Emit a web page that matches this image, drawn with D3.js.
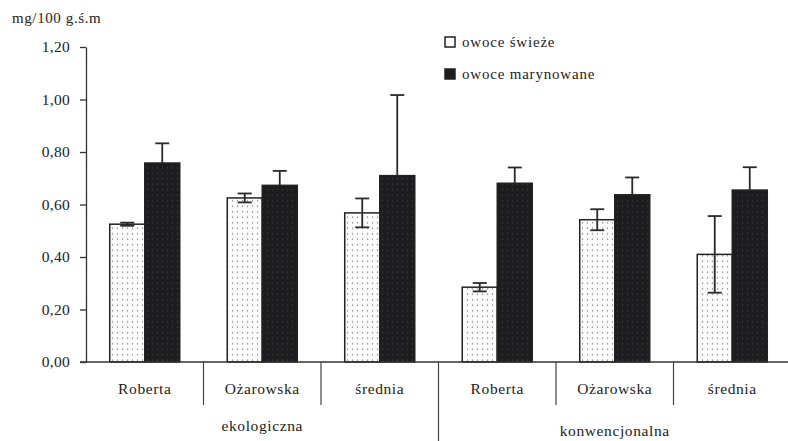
<!DOCTYPE html>
<html><head><meta charset="utf-8">
<script src="https://cdn.jsdelivr.net/npm/d3@7/dist/d3.min.js"></script>
<style>
html,body{margin:0;padding:0;background:#fff;}
svg{display:block;}
svg text{font-family:"Liberation Serif","Times New Roman",serif;}
</style></head>
<body><svg id="c" width="788" height="441"></svg>
<script>
const groups = ["ekologiczna", "konwencjonalna"];
const categories = ["Roberta", "Ożarowska", "średnia", "Roberta", "Ożarowska", "średnia"];
const categoryGroup = [0, 0, 0, 1, 1, 1];
const seriesNames = ["owoce świeże", "owoce marynowane"];
const freshValues = [0.525, 0.625, 0.568, 0.285, 0.542, 0.410];
const freshErrors = [0.006, 0.017, 0.055, 0.016, 0.040, 0.146];
const marinatedValues = [0.758, 0.673, 0.710, 0.681, 0.637, 0.655];
const marinatedErrors = [0.075, 0.055, 0.307, 0.060, 0.066, 0.087];
const yTicks = [0, 0.2, 0.4, 0.6, 0.8, 1.0, 1.2];
const yTitle = "mg/100 g.ś.m";

const svg = d3.select("#c");
const x0 = 86, x1 = 791, yTop = 47, yBase = 362;
const y = d3.scaleLinear().domain([0, 1.2]).range([yBase, yTop]);
const idx = categories.map((d, i) => i);
const slot = d3.scaleBand().domain(idx).range([x0, x1]).padding(0);
const xCat = d3.scaleBand().domain(idx).range([x0, x1]).paddingInner(0.404).paddingOuter(0.202);
const xSer = d3.scaleBand().domain([0, 1]).range([0, xCat.bandwidth()]);

const defs = svg.append("defs");
const p1 = defs.append("pattern").attr("id", "dotsW").attr("patternUnits", "userSpaceOnUse").attr("width", 5).attr("height", 5.5);
p1.append("rect").attr("width", 5).attr("height", 5.5).attr("fill", "#fbfbfb");
p1.append("circle").attr("cx", 2.5).attr("cy", 2.7).attr("r", 0.7).attr("fill", "#6a6a6a");
const p2 = defs.append("pattern").attr("id", "dotsD").attr("patternUnits", "userSpaceOnUse").attr("width", 5).attr("height", 5.5);
p2.append("rect").attr("width", 5).attr("height", 5.5).attr("fill", "#1d1d1f");
p2.append("circle").attr("cx", 2.5).attr("cy", 2.7).attr("r", 0.6).attr("fill", "#4a4a48");

const fills = ["url(#dotsW)", "url(#dotsD)"];
const series = [
  {vals: freshValues, errs: freshErrors, lower: true},
  {vals: marinatedValues, errs: marinatedErrors, lower: false}
];

// bars
series.forEach((s, si) => {
  svg.append("g").selectAll("rect").data(s.vals).join("rect")
    .attr("x", (d, i) => xCat(i) + xSer(si))
    .attr("y", d => y(d))
    .attr("width", xSer.bandwidth())
    .attr("height", d => yBase - y(d))
    .attr("fill", fills[si])
    .attr("stroke", "#222")
    .attr("stroke-width", 1.5);
});

// error bars
series.forEach((s, si) => {
  const g = svg.append("g").attr("stroke", "#2a2a2a").attr("stroke-width", 1.8).attr("fill", "none");
  s.vals.forEach((v, i) => {
    const cx = xCat(i) + xSer(si) + xSer.bandwidth() / 2;
    const hi = y(v + s.errs[i]), lo = s.lower ? y(v - s.errs[i]) : y(v);
    const half = 7;
    g.append("line").attr("x1", cx).attr("x2", cx).attr("y1", hi).attr("y2", lo);
    g.append("line").attr("x1", cx - half).attr("x2", cx + half).attr("y1", hi).attr("y2", hi);
    if (s.lower) g.append("line").attr("x1", cx - half).attr("x2", cx + half).attr("y1", lo).attr("y2", lo);
  });
});

// y axis
const fmt = d => d3.format(".2f")(d).replace(".", ",");
const ax = svg.append("g").attr("transform", `translate(${x0},0)`)
  .call(d3.axisLeft(y).tickValues(yTicks).tickFormat(fmt).tickSize(6).tickSizeOuter(0).tickPadding(10));
ax.attr("font-family", null).attr("font-size", null);
ax.selectAll("path,line").attr("stroke", "#333").attr("stroke-width", 1.3);
ax.selectAll("text").attr("font-size", 15.5).attr("fill", "#222").attr("letter-spacing", 0.3);

// baseline
svg.append("line").attr("x1", x0 - 6).attr("x2", 788).attr("y1", yBase).attr("y2", yBase)
  .attr("stroke", "#333").attr("stroke-width", 1.3);

// category separators
idx.slice(1).forEach(i => {
  const xs = slot(i);
  const isGroup = categoryGroup[i] !== categoryGroup[i - 1];
  svg.append("line").attr("x1", xs).attr("x2", xs).attr("y1", yBase)
    .attr("y2", isGroup ? 441 : 405).attr("stroke", "#444").attr("stroke-width", 1.2);
});

// category labels
svg.append("g").selectAll("text").data(categories).join("text")
  .attr("x", (d, i) => slot(i) + slot.bandwidth() / 2)
  .attr("y", 394)
  .attr("text-anchor", "middle").attr("font-size", 15.5).attr("letter-spacing", 0.6).attr("fill", "#222")
  .text(d => d);

// group labels
groups.forEach((gname, gi) => {
  const members = idx.filter(i => categoryGroup[i] === gi);
  const gx0 = slot(members[0]), gx1 = slot(members[members.length - 1]) + slot.bandwidth();
  svg.append("text").attr("x", (gx0 + gx1) / 2).attr("y", gi === 0 ? 431 : 436)
    .attr("text-anchor", "middle").attr("font-size", 15.5).attr("letter-spacing", 0.6).attr("fill", "#222").text(gname);
});

// y title
svg.append("text").attr("x", 12).attr("y", 23).attr("font-size", 15).attr("letter-spacing", 0.6).attr("fill", "#222").text(yTitle);

// legend
const leg = svg.append("g");
seriesNames.forEach((nm, i) => {
  const ly = 37 + i * 32;
  leg.append("rect").attr("x", 445).attr("y", ly).attr("width", 10).attr("height", 10)
    .attr("fill", i === 0 ? "#fff" : "#1d1d1f").attr("stroke", "#222").attr("stroke-width", 1.5);
  leg.append("text").attr("x", 462).attr("y", ly + 9.5).attr("font-size", 15).attr("letter-spacing", 0.8).attr("fill", "#222").text(nm);
});
</script></body></html>
